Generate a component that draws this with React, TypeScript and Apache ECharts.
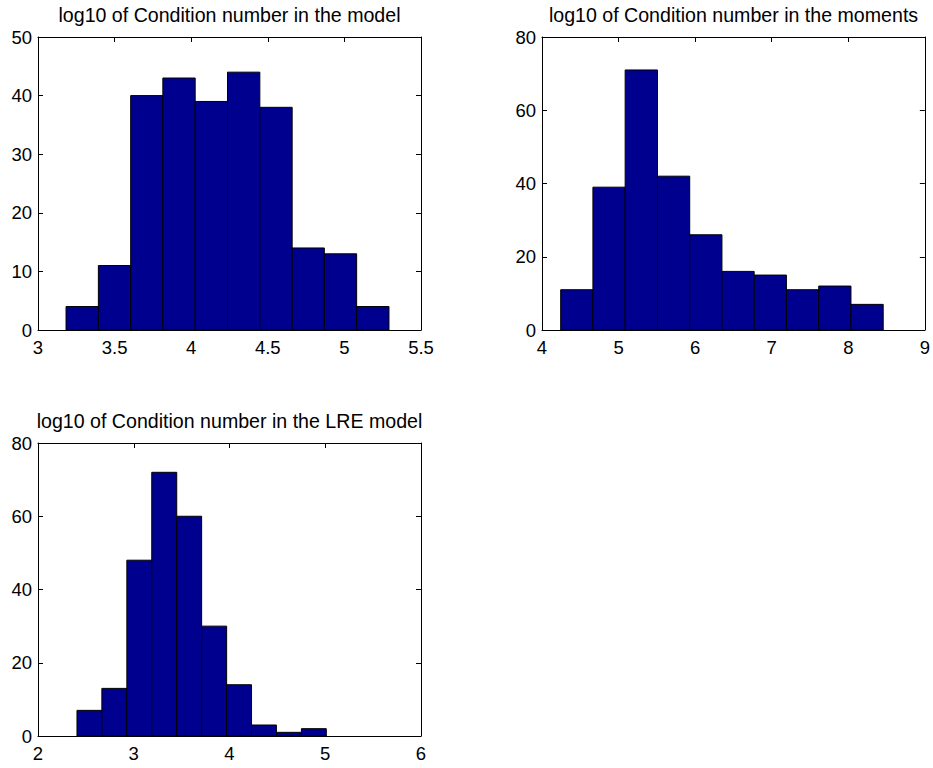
import React, { useEffect, useRef } from "react";
import * as echarts from "echarts";

const titles = [
  "log10 of Condition number in the model",
  "log10 of Condition number in the moments",
  "log10 of Condition number in the LRE model",
];
// Panel 1: bin edges and counts
const edges1 = [3.183, 3.394, 3.605, 3.815, 4.026, 4.237, 4.448, 4.659, 4.869, 5.08, 5.291];
const counts1 = [4, 11, 40, 43, 39, 44, 38, 14, 13, 4];
// Panel 2
const edges2 = [4.244, 4.665, 5.086, 5.508, 5.929, 6.35, 6.771, 7.192, 7.614, 8.035, 8.456];
const counts2 = [11, 39, 71, 42, 26, 16, 15, 11, 12, 7];
// Panel 3
const edges3 = [2.407, 2.667, 2.928, 3.188, 3.449, 3.709, 3.97, 4.23, 4.49, 4.751, 5.011];
const counts3 = [7, 13, 48, 72, 60, 30, 14, 3, 1, 2];

const xRanges = [
  { min: 3, max: 5.5, interval: 0.5 },
  { min: 4, max: 9, interval: 1 },
  { min: 2, max: 6, interval: 1 },
];
const yRanges = [
  { min: 0, max: 50, interval: 10 },
  { min: 0, max: 80, interval: 20 },
  { min: 0, max: 80, interval: 20 },
];

const FONT = "Liberation Sans, Arial, Helvetica, sans-serif";

export default function App() {
  const ref = useRef<HTMLDivElement>(null);
  useEffect(() => {
    if (!ref.current) return;
    const chart = echarts.init(ref.current, undefined, { renderer: "svg" });
    const grids = [
      { left: 38, top: 37, width: 383, height: 293 },
      { left: 542, top: 37, width: 383, height: 293 },
      { left: 38, top: 443, width: 383, height: 293 },
    ];
    const allEdges = [edges1, edges2, edges3];
    const allCounts = [counts1, counts2, counts3];
    const xAxes: any[] = [];
    const yAxes: any[] = [];
    const series: any[] = [];
    const graphics: any[] = [];
    grids.forEach((g, i) => {
      const line = { show: true, onZero: false, lineStyle: { color: "#000", width: 1 } };
      const tick = { show: true, inside: true, length: 5, lineStyle: { color: "#000", width: 1 } };
      xAxes.push({
        type: "value", gridIndex: i, position: "bottom", ...xRanges[i],
        axisLine: line, axisTick: tick, splitLine: { show: false },
        axisLabel: { color: "#000", fontSize: 18.5, fontFamily: FONT, margin: 8, showMinLabel: true, showMaxLabel: true },
      });
      xAxes.push({
        type: "value", gridIndex: i, position: "top", ...xRanges[i],
        axisLine: line, axisTick: tick, splitLine: { show: false }, axisLabel: { show: false },
      });
      yAxes.push({
        type: "value", gridIndex: i, position: "left", ...yRanges[i],
        axisLine: line, axisTick: tick, splitLine: { show: false },
        axisLabel: { color: "#000", fontSize: 18.5, fontFamily: FONT, margin: 6 },
      });
      yAxes.push({
        type: "value", gridIndex: i, position: "right", ...yRanges[i],
        axisLine: line, axisTick: tick, splitLine: { show: false }, axisLabel: { show: false },
      });
      const e = allEdges[i];
      const data = allCounts[i].map((c, k) => [e[k], e[k + 1], c]);
      series.push({
        type: "custom",
        xAxisIndex: i * 2,
        yAxisIndex: i * 2,
        data,
        encode: { x: [0, 1], y: 2 },
        renderItem: (params: any, api: any) => {
          const p0 = api.coord([api.value(0), api.value(2)]);
          const p1 = api.coord([api.value(1), 0]);
          return {
            type: "rect",
            shape: { x: p0[0], y: p0[1], width: p1[0] - p0[0], height: p1[1] - p0[1] },
            style: { fill: "#00008F", stroke: "#000", lineWidth: 1 },
          };
        },
      });
      graphics.push({
        type: "text",
        x: g.left + g.width / 2,
        y: g.top - 22,
        style: {
          text: titles[i],
          fill: "#000",
          font: `19.6px ${FONT}`,
          textAlign: "center",
          textVerticalAlign: "middle",
          align: "center",
          verticalAlign: "middle",
        },
      });
    });
    chart.setOption({
      animation: false,
      backgroundColor: "#fff",
      grid: grids,
      xAxis: xAxes,
      yAxis: yAxes,
      series,
      graphic: graphics,
    });
    return () => chart.dispose();
  }, []);
  return (
    <div
      ref={ref}
      style={{ position: "fixed", left: 0, top: 0, width: 933, height: 768 }}
    />
  );
}
